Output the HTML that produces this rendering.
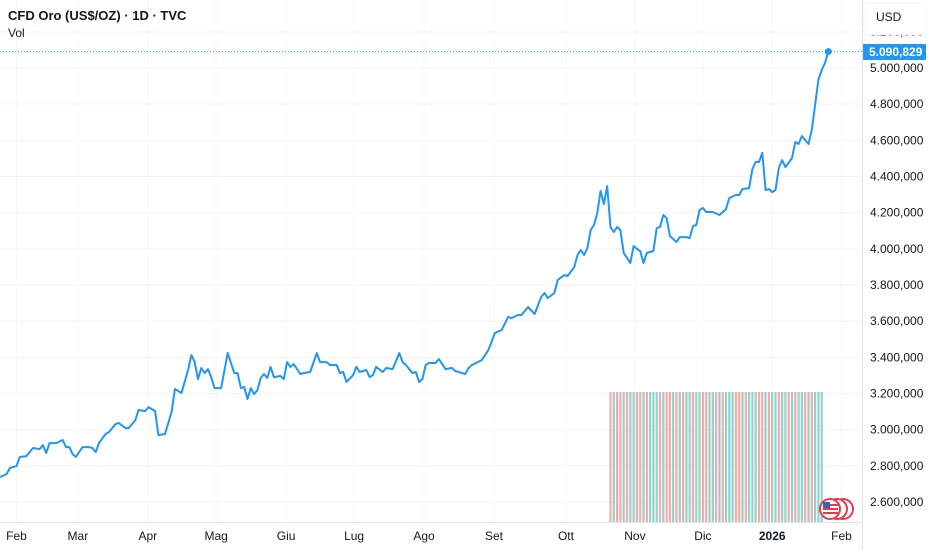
<!DOCTYPE html>
<html><head><meta charset="utf-8"><style>
body{margin:0;background:#fff;font-family:"Liberation Sans",sans-serif;}
svg{display:block}
</style></head><body>
<svg id="c" width="932" height="550" xmlns="http://www.w3.org/2000/svg" style="font-family:'Liberation Sans',sans-serif">
<g id="grid"></g>
<g id="vol"></g>
<g id="line"></g>
<g id="axes"></g>
</svg>
<script>
const sessions=[0,2,3,5,6,8,10,12,13,14,15,17,19,20,21,22,23,25,27,28,29,30,32,33,35,36,38,39,41,42,44,45,47,48,50,52,53,55,57,58,59,60,61,62,63,64,65,67,69,71,72,73,74,75,76,77,78,79,80,81,82,83,85,86,87,88,89,91,92,94,96,97,99,100,102,103,104,105,107,108,109,111,112,113,114,116,117,119,121,122,123,125,126,127,128,129,130,132,133,135,137,138,141,142,143,146,148,150,152,154,155,157,158,160,162,164,165,166,168,169,171,172,174,175,176,177,178,179,180,181,182,183,184,185,186,187,188,189,191,192,193,194,195,196,198,199,200,201,202,203,205,206,208,209,210,211,212,213,214,216,218,220,221,223,224,225,227,228,229,230,231,232,233,234,235,236,237,238,240,241,242,243,245,246,247,248,249,250,251];
const prices=[2738,2755,2788,2799,2849,2854,2899,2893,2915,2871,2926,2926,2943,2904,2904,2865,2849,2904,2904,2899,2876,2926,2976,2987,3031,3037,3009,3009,3053,3109,3103,3125,3103,2970,2976,3098,3225,3203,3330,3413,3374,3280,3341,3313,3335,3291,3230,3230,3424,3313,3313,3230,3236,3170,3230,3197,3219,3286,3308,3286,3347,3291,3297,3280,3374,3347,3363,3308,3313,3319,3424,3374,3374,3358,3358,3313,3319,3264,3302,3347,3319,3330,3291,3302,3347,3319,3341,3335,3424,3374,3358,3313,3319,3264,3280,3358,3369,3369,3391,3335,3341,3324,3308,3341,3358,3385,3441,3535,3551,3623,3617,3634,3634,3678,3640,3734,3756,3728,3756,3828,3855,3850,3899,3966,3993,3966,4004,4104,4132,4198,4320,4248,4347,4121,4093,4121,4104,3977,3922,4016,4000,3988,3922,3977,3988,4115,4121,4187,4170,4071,4038,4065,4065,4060,4126,4132,4215,4226,4204,4204,4187,4220,4281,4298,4298,4331,4336,4441,4480,4480,4530,4325,4331,4314,4325,4447,4491,4452,4502,4591,4580,4624,4580,4657,4795,4934,4989,5028,5090.829];
const yTicks=[2600,2800,3000,3200,3400,3600,3800,4000,4200,4400,4600,4800,5000,5200];
const monthLabels=["Feb","Mar","Apr","Mag","Giu","Lug","Ago","Set","Ott","Nov","Dic","2026","Feb"];
const monthSessions=[5,23.6,44.8,65.5,86.7,107.3,128.5,149.7,171.5,192.4,213,234,255];
const volSessions=[185,186,187,188,189,190,191,192,193,194,195,196,197,198,199,200,201,202,203,204,205,206,207,208,209,210,211,212,213,214,215,216,217,218,219,220,221,222,223,224,225,226,227,228,229,230,231,232,233,234,235,236,237,238,239,240,241,242,243,244,245,246,247,248,249];
const volValues=[100,100,100,100,100,100,100,100,100,100,100,100,100,100,100,100,100,100,100,100,100,100,100,100,100,100,100,100,100,100,100,100,100,100,100,100,100,100,100,100,100,100,100,100,100,100,100,100,100,100,100,100,100,100,100,100,100,100,100,100,100,100,100,100,100];
const volUp=[0,1,0,0,1,0,1,1,0,0,1,0,1,1,1,0,1,0,0,1,0,1,0,1,1,0,1,1,0,0,1,1,0,1,0,1,1,1,0,0,1,0,1,1,1,0,0,1,0,1,1,0,1,1,0,1,0,1,1,0,1,0,1,1,1];

const NS="http://www.w3.org/2000/svg";
const X=t=>t*3.3;
const Y=v=>68+(5000-v)/200*36.17;
const VY=v=>522-v/100*130;
function mk(tag,attrs,parent){const e=document.createElementNS(NS,tag);for(const k in attrs)e.setAttribute(k,attrs[k]);parent.appendChild(e);return e;}
const grid=document.getElementById('grid'),axes=document.getElementById('axes'),vol=document.getElementById('vol'),line=document.getElementById('line');

yTicks.forEach(v=>{
  const g=mk('line',{x1:0,x2:862,y1:Y(v),y2:Y(v),stroke:'#f0f3fa','stroke-width':1},grid);
  
  
  const s=v.toFixed(3).replace('.',',');
  const lab=s.slice(0,1)+'.'+s.slice(1);
  const t=mk('text',{x:870,y:Y(v)+4,'font-size':12,fill:'#131722'},axes);
  t.textContent=lab;
  
  
});
monthSessions.forEach((s,i)=>{
  const g=mk('line',{x1:X(s),x2:X(s),y1:0,y2:522,stroke:'#f6f7fa','stroke-width':1},grid);
  
  
  const t=mk('text',{x:X(s),y:540,'font-size':12,fill:'#131722','text-anchor':'middle','font-weight':monthLabels[i]==='2026'?'bold':'normal'},axes);
  t.textContent=monthLabels[i];
  
  
});
volSessions.forEach((s,i)=>{
  const r=mk('rect',{x:X(s)-1.1,y:VY(volValues[i]),width:2.2,height:522-VY(volValues[i]),fill:volUp[i]?'#92d2cc':'#f7a9a7'},vol);
  
  
});
let d='';sessions.forEach((s,i)=>{d+=(i?'L':'M')+X(s).toFixed(1)+' '+Y(prices[i]).toFixed(1)+' ';});
const p=mk('path',{d:d,fill:'none',stroke:'#2196f3','stroke-width':2,'stroke-linejoin':'round'},line);


const last=prices[prices.length-1],lx=X(sessions[sessions.length-1]),ly=Y(last);
const pl=mk('line',{x1:0,x2:862,y1:ly,y2:ly,stroke:'#2196f3','stroke-width':1,'stroke-dasharray':'1 2'},line);


const dot=mk('circle',{cx:lx,cy:ly,r:3.5,fill:'#2196f3'},line);


</script>
<script>
(function(){
const NS="http://www.w3.org/2000/svg",svg=document.getElementById('c');
function mk(tag,attrs){const e=document.createElementNS(NS,tag);for(const k in attrs)e.setAttribute(k,attrs[k]);svg.appendChild(e);return e;}
const a1=mk('line',{x1:862.5,x2:862.5,y1:0,y2:550,stroke:'#e0e3eb'});


const a2=mk('line',{x1:0,x2:862,y1:522.5,y2:522.5,stroke:'#e0e3eb'});


const ub=mk('rect',{x:864,y:3,width:62,height:32,fill:'#fff',stroke:'#f0f3fa'});


const ut=mk('text',{x:876,y:21,'font-size':12,fill:'#131722'});ut.textContent='USD';


const pb=mk('rect',{x:863,y:44,width:63,height:16,fill:'#2196f3',rx:1});


const pt=mk('text',{x:869,y:56,'font-size':12,fill:'#fff','font-weight':'bold'});pt.textContent='5.090,829';


const t1=mk('text',{x:8,y:20,'font-size':13,fill:'#131722','font-weight':'bold'});t1.textContent='CFD Oro (US$/OZ) · 1D · TVC';


const t2=mk('text',{x:8,y:37,'font-size':12,fill:'#131722'});t2.textContent='Vol';


[843,837,830].forEach(cx=>{
  const o=mk('circle',{cx:cx,cy:509,r:10,fill:'#fff',stroke:'#e8394b','stroke-width':2});
  
  
});
const f=mk('circle',{cx:830,cy:509,r:7.5,fill:'#fff'});


[504,508,512].forEach(y=>{
  const s=mk('rect',{x:823,y:y,width:15,height:2,fill:'#e8394b'});
  
  
});
const fb=mk('rect',{x:823,y:502,width:7,height:6,fill:'#3c5fb5'});


})();
</script>
</body></html>
